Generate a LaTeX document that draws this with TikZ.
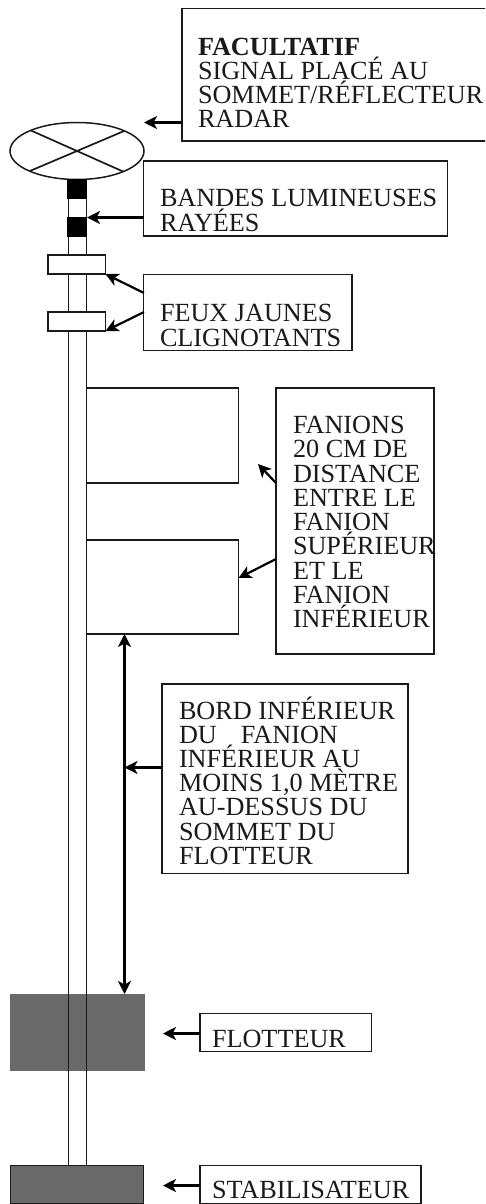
\documentclass[tikz,border=0pt]{standalone}
\usepackage{fontspec}
\setmainfont{Liberation Serif}
\usetikzlibrary{arrows.meta,shapes.geometric}
\definecolor{ink}{HTML}{1A1A1A}
\definecolor{floatgray}{HTML}{696969}
\tikzset{
  boxst/.style={draw=ink,line width=1.5pt,fill=white,rectangle,inner sep=0pt,outer sep=0pt,anchor=north west},
  txt/.style={inner sep=0pt,outer sep=0pt,anchor=north west,align=left,text=ink,font=\fontsize{26.2}{24.25}\selectfont},
  lead/.style={draw=black,line width=2.2pt,-{Stealth[length=13pt,width=13pt,inset=3.5pt]}},
  both/.style={draw=black,line width=2.2pt,{Stealth[length=13pt,width=13pt,inset=3.5pt]}-{Stealth[length=13pt,width=13pt,inset=3.5pt]}},
  pole/.style={draw=ink,line width=1.7pt},
}
\begin{document}
\begin{tikzpicture}[x=1pt,y=-1pt]
\path[use as bounding box,clip] (0,0) rectangle (485,1204);
\fill[white] (0,0) rectangle (485,1204);
% gray float
\node[rectangle,fill=floatgray,inner sep=0pt,outer sep=0pt,anchor=north west,minimum width=134.5pt,minimum height=77pt] (float) at (10,994) {};
% stabiliser
\node[boxst,fill=floatgray,minimum width=133pt,minimum height=38.5pt] (stab) at (10.5,1165.5) {};
% pole
\coordinate (poleLT) at (68.5,179);
\coordinate (poleRT) at (86.5,179);
\draw[pole] (poleLT) -- (poleLT |- stab.north);
\draw[pole] (poleRT) -- (poleRT |- stab.north);
% ellipse with cross
\node[draw=ink,line width=1.5pt,fill=white,ellipse,minimum width=134pt,minimum height=57pt,inner sep=0pt,outer sep=0pt] (top) at (77,151) {};
\draw[pole] (top.156.5) -- (top.336.5);
\draw[pole] (top.203.5) -- (top.23.5);
% bands
\node[rectangle,fill=black,inner sep=0pt,outer sep=0pt,anchor=north west,minimum width=20pt,minimum height=20pt] (band1) at (67,179) {};
\node[rectangle,fill=black,inner sep=0pt,outer sep=0pt,anchor=north west,minimum width=20pt,minimum height=20pt] (band2) at (67,217) {};
% lights
\node[boxst,minimum width=57.5pt,minimum height=19pt] (light1) at (48,255) {};
\node[boxst,minimum width=57.5pt,minimum height=19pt] (light2) at (48,312) {};
% flags
\node[boxst,minimum width=152pt,minimum height=95pt] (flag1) at (86.5,388) {};
\node[boxst,minimum width=152pt,minimum height=94pt] (flag2) at (86.5,540) {};
% label boxes
\node[boxst,minimum width=305pt,minimum height=132.5pt] (fac) at (182,8.5) {};
\node[txt] (factxt) at (198,37.7) {\textbf{FACULTATIF}\\SIGNAL PLACÉ AU\\SOMMET/RÉFLECTEUR\\RADAR};
\node[boxst,minimum width=304pt,minimum height=75pt] (bandes) at (143.5,161) {};
\node[txt] (bandestxt) at (160,189.3) {BANDES LUMINEUSES\\[0.75pt]RAYÉES};
\node[boxst,minimum width=208.5pt,minimum height=76pt] (feux) at (143.5,274.5) {};
\node[txt] (feuxtxt) at (160,303.7) {FEUX JAUNES\\[1.5pt]CLIGNOTANTS};
\node[boxst,minimum width=158pt,minimum height=266pt] (fan) at (276,388) {};
\node[txt] (fantxt) at (293,416.3) {FANIONS\\20 CM DE\\DISTANCE\\ENTRE LE\\FANION\\SUPÉRIEUR\\ET LE\\FANION\\INFÉRIEUR};
\node[boxst,minimum width=246pt,minimum height=189.5pt] (bord) at (162,684) {};
\node[txt] (bordtxt) at (179,696.5) {BORD INFÉRIEUR\\DU\hspace*{24pt}FANION\\INFÉRIEUR AU\\MOINS 1,0 MÈTRE\\AU-DESSUS DU\\SOMMET DU\\FLOTTEUR};
\node[boxst,minimum width=171.5pt,minimum height=38pt] (flot) at (200,1013.5) {};
\node[txt] (flottxt) at (212,1030.5) {FLOTTEUR};
\node[boxst,minimum width=221pt,minimum height=38pt] (stabb) at (200,1165.5) {};
\node[txt] (stabtxt) at (212,1181.5) {STABILISATEUR};
% connector ends
\coordinate (tipFac) at (144,122.5);
\coordinate (tipBand) at (87,217.5);
\coordinate (tipFanA) at (258,464);
\coordinate (tailFanA) at (276,483);
\coordinate (tipFanB) at (238.5,578);
\coordinate (tailFanB) at (276,559);
\coordinate (tipBord) at (124.5,767.5);
\coordinate (tipFlot) at (163,1033.5);
\coordinate (tipStab) at (163,1185.5);
\coordinate (tailFeuxA) at (144,293);
\coordinate (tailFeuxB) at (144,312);
\coordinate (dimX) at (124.5,700);
% connectors
\draw[lead] (fac.west |- tipFac) -- (tipFac);
\draw[lead] (bandes.west |- tipBand) -- (tipBand);
\draw[lead] (tailFeuxA) -- (light1.south east);
\draw[lead] (tailFeuxB) -- (light2.south east);
\draw[lead] (tailFanA) -- (tipFanA);
\draw[lead] (tailFanB) -- (tipFanB);
\draw[both] (dimX |- flag2.south) -- (dimX |- float.north);
\draw[lead] (bord.west |- tipBord) -- (tipBord);
\draw[lead] (flot.west |- tipFlot) -- (tipFlot);
\draw[lead] (stabb.west |- tipStab) -- (tipStab);
\end{tikzpicture}
\end{document}
